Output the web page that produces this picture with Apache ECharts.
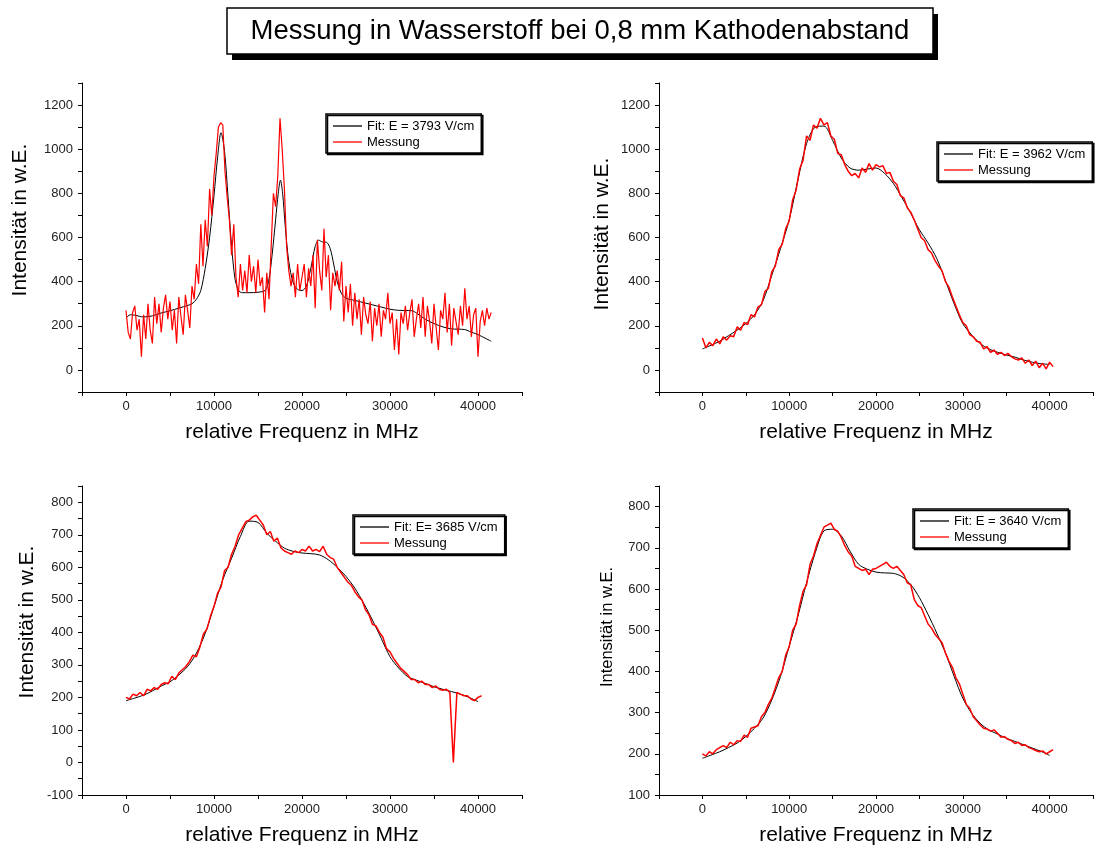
<!DOCTYPE html>
<html>
<head>
<meta charset="utf-8">
<script src="https://cdn.jsdelivr.net/npm/echarts@6/dist/echarts.min.js"></script>
<style>
  html, body { margin: 0; padding: 0; background: #fff; }
  #chart { width: 1096px; height: 853px; }
</style>
</head>
<body>
<div id="chart"></div>
<script>
var titleText = 'Messung in Wasserstoff bei 0,8 mm Kathodenabstand';
var xName = 'relative Frequenz in MHz';
var yName = 'Intensität in w.E.';
var fitNames = ['Fit: E = 3793 V/cm', 'Fit: E = 3962 V/cm', 'Fit: E= 3685 V/cm', 'Fit: E = 3640 V/cm'];

// panel 1 fit (uneven spacing, so x listed)
var fit1X = [0,500,1000,2000,3000,4000,5000,6000,7000,7500,8000,8500,9000,9500,10000,10400,10800,11200,11600,12000,12400,12800,13200,14000,15000,15800,16200,16600,17000,17300,17550,17800,18100,18500,19000,19500,20000,20500,21000,21500,21900,22300,22800,23200,23600,24000,24500,25000,26000,27000,28000,29000,30000,31000,32500,33000,34000,35000,36000,37000,38500,39000,40000,41000,41500];
var fit1Y = [235,250,248,240,245,258,268,280,292,300,320,360,460,600,790,960,1075,990,780,560,410,360,350,350,352,360,400,520,680,800,860,800,650,490,395,365,360,380,460,560,588,580,578,550,480,400,345,325,315,305,295,285,275,270,268,258,230,210,195,186,183,175,160,140,130];
// panel 1 measurement, every 250 MHz from 0
var mess1 = [270,170,140,260,290,180,230,60,250,140,300,180,120,330,210,300,170,280,340,230,310,180,270,120,330,240,160,340,270,190,380,
  320,480,390,660,470,680,560,820,700,880,980,1100,1120,1110,900,780,680,520,660,420,330,480,360,450,350,520,400,470,350,500,380,420,260,440,320,560,800,740,880,1140,1000,820,560,450,380,440,330,480,360,420,480,330,460,380,520,280,590,450,360,640,420,520,270,440,380,450,360,490,220,380,260,390,200,350,230,320,160,330,250,210,310,130,280,200,300,150,270,230,350,210,260,90,230,70,260,210,290,180,260,320,150,230,300,190,330,150,290,220,120,300,190,90,270,230,350,170,300,110,280,220,160,290,200,370,230,290,150,250,280,60,220,270,200,280,230,260];

// panels 2-4 fits, every 1000 MHz from 0
var fit2 = [95,112,130,155,180,210,250,315,430,550,680,860,1025,1100,1105,1040,960,915,905,910,915,890,845,780,710,635,575,505,405,300,210,160,120,95,80,68,58,45,35,28,25];
var fit3 = [190,198,207,220,235,248,269,295,336,397,479,562,628,695,742,738,705,680,659,649,644,642,638,623,600,572,536,490,438,382,325,290,264,253,243,233,225,218,210,200,187];
var fit4 = [189,197,205,215,226,242,262,287,331,388,461,534,615,688,741,745,729,692,660,648,641,639,638,630,611,579,538,493,445,388,335,299,274,258,248,238,230,222,214,206,196];

// panels 2-4 measurements, every 400 MHz from 0
var mess2 = [145,100,125,110,140,118,150,135,155,150,195,180,215,205,250,240,285,295,355,370,445,470,545,570,640,675,770,815,910,950,1060,1040,1110,1095,1140,1110,1120,1060,1045,980,975,930,900,880,890,870,915,895,935,905,930,920,925,890,895,855,840,790,780,735,715,680,640,600,585,545,530,495,470,450,400,375,330,290,250,215,200,160,150,130,125,95,105,80,90,70,80,65,75,60,50,45,55,30,45,20,40,10,30,5,35,15];
var mess3 = [200,195,210,205,215,205,225,220,230,225,240,245,242,265,255,275,285,295,310,330,325,355,395,410,450,480,520,540,590,600,640,665,700,720,740,745,755,760,745,730,700,710,680,690,660,650,645,640,650,645,655,650,665,650,655,648,665,640,630,625,600,585,570,555,545,525,510,500,470,455,425,420,400,385,350,340,320,305,290,280,270,255,255,245,250,240,240,230,235,225,222,225,215,0,215,210,205,205,195,190,200,205];
var mess4 = [200,195,205,200,210,215,220,215,228,222,232,230,245,240,262,265,268,290,300,320,335,360,385,400,440,460,500,515,560,595,610,660,680,710,730,750,755,760,745,740,725,705,690,680,655,650,645,648,635,648,650,655,660,665,655,650,655,645,635,615,610,575,560,555,535,515,505,490,480,470,445,425,410,385,370,345,320,310,290,280,270,262,260,255,258,250,240,242,235,232,225,228,220,222,215,212,208,205,207,200,205,210];

// y axis ranges per panel: [min, max, tick interval, label step, label max]
var yRanges = [[-100, 1300, 100, 200, 1200], [-100, 1300, 100, 200, 1200], [-100, 850, 50, 100, 800], [100, 850, 50, 100, 800]];

function stepped(ys, step) {
  return ys.map(function (y, i) { return [i * step, y]; });
}
function paired(xs, ys) {
  return xs.map(function (x, i) { return [x, ys[i]]; });
}

var font = 'Liberation Sans, Arial, sans-serif';
var grids = [
  { left: 82, top: 83, width: 440, height: 309 },
  { left: 659, top: 83, width: 440, height: 309 },
  { left: 82, top: 486, width: 440, height: 309 },
  { left: 659, top: 486, width: 440, height: 309 }
];
var legendPos = [[326, 114], [937, 142], [353, 515], [913, 509]];
var yNamePos = [[20, 220, 21], [602, 234, 21], [27, 622, 21], [607, 627, 16.5]];

var fitData = [paired(fit1X, fit1Y), stepped(fit2, 1000), stepped(fit3, 1000), stepped(fit4, 1000)];
var messData = [stepped(mess1, 250), stepped(mess2, 400), stepped(mess3, 400), stepped(mess4, 400)];

var xAxes = [], yAxes = [], series = [], legends = [], graphics = [];
for (var i = 0; i < 4; i++) {
  xAxes.push({
    type: 'value', gridIndex: i, min: -5000, max: 45000, interval: 5000,
    name: xName, nameLocation: 'middle', nameGap: 30,
    nameTextStyle: { fontSize: 21, color: '#000', fontFamily: font },
    axisLine: { onZero: false, lineStyle: { color: '#000', width: 1 } },
    axisTick: { length: 4, lineStyle: { color: '#000' } },
    splitLine: { show: false },
    axisLabel: {
      margin: 8, fontSize: 13, color: '#222', fontFamily: font,
      formatter: function (v) { return (v >= 0 && v <= 40000 && v % 10000 === 0) ? String(v) : ''; }
    }
  });
  (function (r) {
    yAxes.push({
      type: 'value', gridIndex: i, min: r[0], max: r[1], interval: r[2],
      axisLine: { show: true, onZero: false, lineStyle: { color: '#000', width: 1 } },
      axisTick: { show: true, length: 4, lineStyle: { color: '#000' } },
      splitLine: { show: false },
      axisLabel: {
        margin: 9, fontSize: 13, color: '#222', fontFamily: font,
        formatter: function (v) { return (v % r[3] === 0 && v <= r[4]) ? String(v) : ''; }
      }
    });
  })(yRanges[i]);
  series.push({
    name: fitNames[i], type: 'line', xAxisIndex: i, yAxisIndex: i,
    data: fitData[i], symbol: 'none', smooth: 0.3,
    lineStyle: { color: '#000', width: 1 }, itemStyle: { color: '#000' }, z: 2
  });
  series.push({
    name: 'Messung', type: 'line', xAxisIndex: i, yAxisIndex: i,
    data: messData[i], symbol: 'none',
    lineStyle: { color: '#ff0000', width: i === 0 ? 1.2 : 1.5 }, itemStyle: { color: '#ff0000' }, z: 3
  });
  legends.push({
    data: [fitNames[i], 'Messung'], orient: 'vertical', selectedMode: false,
    left: legendPos[i][0], top: legendPos[i][1],
    icon: 'rect', padding: [5, 7, 4, 7], itemWidth: 29, itemHeight: 1.3, itemGap: 2,
    backgroundColor: '#fff', borderColor: '#000', borderWidth: 1.5,
    shadowColor: '#000', shadowOffsetX: 1.5, shadowOffsetY: 1.5, shadowBlur: 0,
    textStyle: { fontSize: 13, lineHeight: 14, color: '#000', fontFamily: font }
  });
  graphics.push({
    type: 'text', x: yNamePos[i][0], y: yNamePos[i][1], rotation: Math.PI / 2,
    style: { text: yName, fontSize: yNamePos[i][2], fontFamily: font, fill: '#000', align: 'center', verticalAlign: 'middle' }
  });
}

// title box with drop shadow
graphics.push({
  type: 'rect', shape: { x: 232, y: 14, width: 706, height: 46 },
  style: { fill: '#000' }, z: 10
});
graphics.push({
  type: 'rect', shape: { x: 227, y: 8, width: 706, height: 46 },
  style: { fill: '#fff', stroke: '#000', lineWidth: 1.5 }, z: 11
});
graphics.push({
  type: 'text', x: 580, y: 31, z: 12,
  style: { text: titleText, fontSize: 27.5, fontFamily: font, fill: '#000', align: 'center', verticalAlign: 'middle' }
});

var myChart = echarts.init(document.getElementById('chart'), null, { renderer: 'canvas' });
myChart.setOption({
  animation: false,
  backgroundColor: '#fff',
  grid: grids,
  xAxis: xAxes,
  yAxis: yAxes,
  legend: legends,
  series: series,
  graphic: graphics
});
</script>
</body>
</html>
